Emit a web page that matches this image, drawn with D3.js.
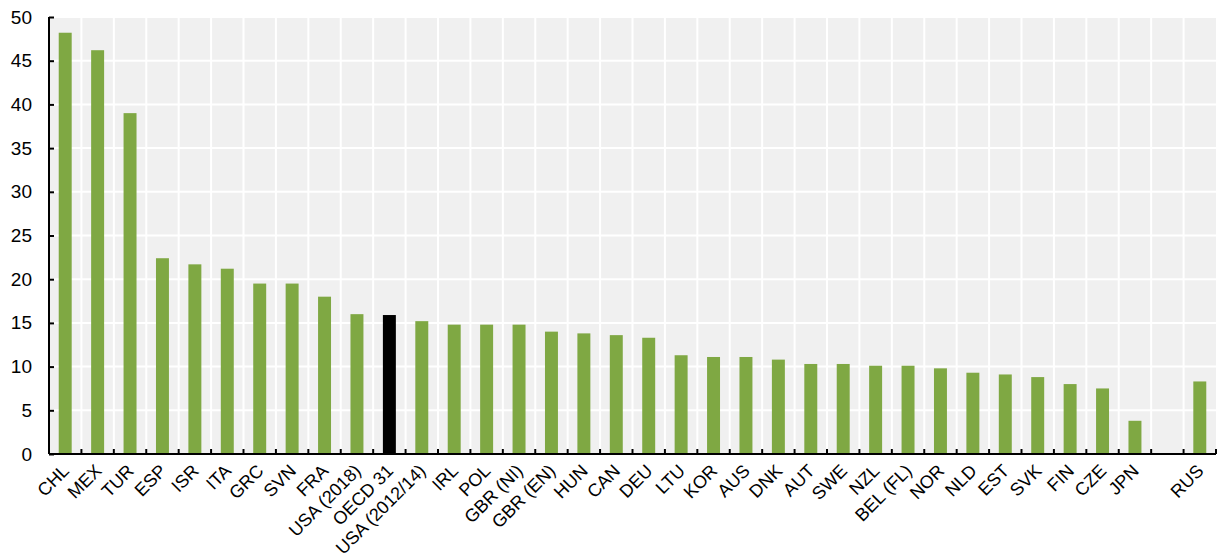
<!DOCTYPE html>
<html><head><meta charset="utf-8">
<script src="https://cdn.jsdelivr.net/npm/d3@7"></script>
<style>body{margin:0;background:#fff;} text{font-family:"Liberation Sans",Arial,sans-serif;}</style>
</head><body>
<svg id="c" width="1218" height="556"></svg>
<script>
const categories = ["CHL","MEX","TUR","ESP","ISR","ITA","GRC","SVN","FRA","USA (2018)","OECD 31","USA (2012/14)","IRL","POL","GBR (NI)","GBR (EN)","HUN","CAN","DEU","LTU","KOR","AUS","DNK","AUT","SWE","NZL","BEL (FL)","NOR","NLD","EST","SVK","FIN","CZE","JPN","","RUS"];
const values = [48.2,46.2,39.0,22.4,21.7,21.2,19.5,19.5,18.0,16.0,15.9,15.2,14.8,14.8,14.8,14.0,13.8,13.6,13.3,11.3,11.1,11.1,10.8,10.3,10.3,10.1,10.1,9.8,9.3,9.1,8.8,8.0,7.5,3.8,null,8.3];
const yTicks = [0,5,10,15,20,25,30,35,40,45,50];
const highlight = "OECD 31";

const svg = d3.select("#c");
const m = {l:49, r:2, t:17, b:102};
const W = 1218, H = 556;
const x = d3.scaleBand().domain(d3.range(categories.length)).range([m.l, W-m.r]).paddingInner(0.6).paddingOuter(0.3);
const step = x.step();
const y = d3.scaleLinear().domain([0,50]).range([H-m.b, m.t]);

svg.append("rect").attr("x",m.l).attr("y",m.t).attr("width",W-m.r-m.l).attr("height",H-m.b-m.t).attr("fill","#f0f0f0");
// horizontal grid
svg.append("g").selectAll("line").data(yTicks).join("line")
  .attr("x1",m.l).attr("x2",W-m.r).attr("y1",d=>y(d)).attr("y2",d=>y(d))
  .attr("stroke","#fff").attr("stroke-width",2);
// vertical grid at slot boundaries
const bounds = d3.range(1, categories.length).map(i => m.l + i*step);
svg.append("g").selectAll("line").data(bounds).join("line")
  .attr("x1",d=>d).attr("x2",d=>d).attr("y1",m.t).attr("y2",H-m.b)
  .attr("stroke","#fff").attr("stroke-width",2);

// bars
svg.append("g").selectAll("rect").data(values.map((v,i)=>({v,i,c:categories[i]})).filter(d=>d.v!=null)).join("rect")
  .attr("x",d=>x(d.i)).attr("width",x.bandwidth())
  .attr("y",d=>y(d.v)).attr("height",d=>y(0)-y(d.v))
  .attr("fill",d=>d.c===highlight?"#000":"#7fa843");

// y axis
const ya = svg.append("g").attr("transform",`translate(${m.l},0)`)
  .call(d3.axisLeft(y).tickValues(yTicks).tickSize(-5).tickPadding(17));
ya.select(".domain").attr("stroke","#000").attr("stroke-width",2).attr("d",`M0,${m.t}V${H-m.b}`);
ya.selectAll(".tick line").attr("stroke","#000").attr("stroke-width",2);
ya.selectAll(".tick text").attr("font-size",19).attr("fill","#000").attr("font-family","Liberation Sans, Arial, sans-serif");

// x axis
const xa = svg.append("g").attr("transform",`translate(0,${H-m.b})`);
xa.append("line").attr("x1",m.l).attr("x2",W-m.r).attr("stroke","#000").attr("stroke-width",2);
xa.selectAll(".tk").data(d3.range(0, categories.length+1).map(i=>m.l+i*step)).join("line")
  .attr("x1",d=>d).attr("x2",d=>d).attr("y1",0).attr("y2",-5).attr("stroke","#000").attr("stroke-width",2);
xa.selectAll("text").data(categories.map((c,i)=>({c,i}))).join("text")
  .attr("transform",d=>`translate(${x(d.i)+x.bandwidth()/2+5},${18}) rotate(-45)`)
  .attr("text-anchor","end")
  .attr("font-size",18).attr("fill","#000").text(d=>d.c);
</script>
</body></html>
